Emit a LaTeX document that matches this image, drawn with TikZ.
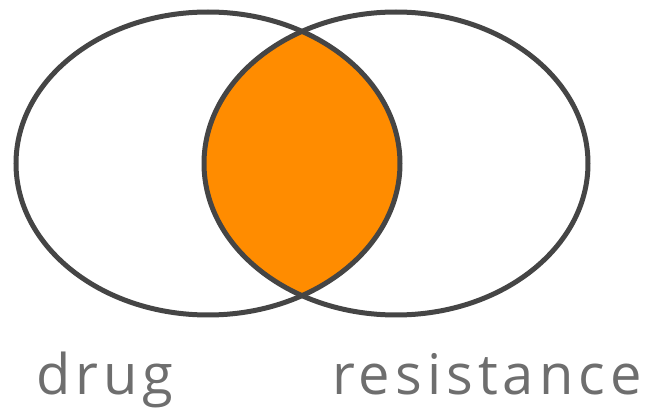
\documentclass[tikz,border=0pt]{standalone}
\usepackage{fontspec}
\setmainfont{Open Sans}
\newfontfamily\setfont[LetterSpace=9]{Open Sans}
\definecolor{lensorange}{HTML}{FF8C00}
\definecolor{rimgray}{HTML}{454545}
\definecolor{labelgray}{HTML}{6E6E6E}

\begin{document}
\begin{tikzpicture}[x=1pt, y=-1pt,
	rim/.style={draw=rimgray, line width=5pt},
	set_label/.style={anchor=base west, inner sep=0pt, text=labelgray, font=\setfont\fontsize{56}{60}\selectfont}
	]
	\useasboundingbox (0,0) rectangle (649,409);
	
	% Set centres
	\coordinate (cdrug) at (208,163.5);
	\coordinate (cres) at (396,163.5);
	
	% Overlap
	\begin{scope}
		\clip (cdrug) ellipse [x radius=192, y radius=151.5];
		\fill[lensorange] (cres) ellipse [x radius=192, y radius=151.5];
	\end{scope}
	
	% Outlines
	\draw[rim] (cdrug) ellipse [x radius=192, y radius=151.5];
	\draw[rim] (cres) ellipse [x radius=192, y radius=151.5];
	
	% Labels
	\node[set_label] (drug) at (36,394) {drug};
	\node[set_label] (resistance) at (332,394) {resistance};
\end{tikzpicture}
\end{document}
